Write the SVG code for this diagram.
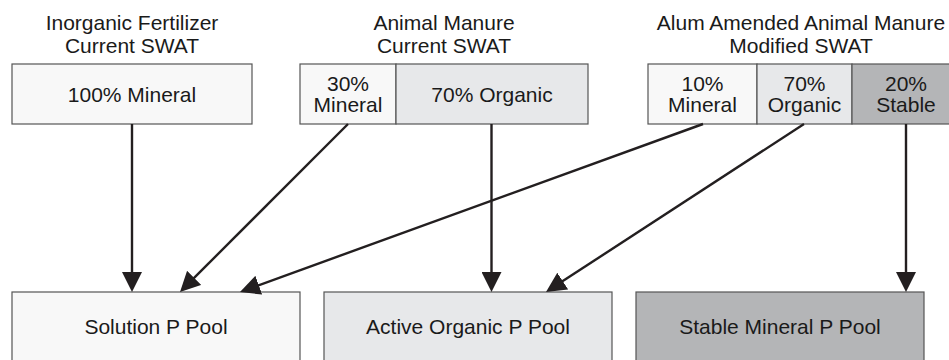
<svg xmlns="http://www.w3.org/2000/svg" width="949" height="360" viewBox="0 0 949 360">
<style>
text{font-family:"Liberation Sans",Arial,sans-serif;font-size:21px;fill:#1a1a1a;text-anchor:middle}
.box{stroke:#555;stroke-width:1.2}
.min{fill:#f8f8f8}
.org{fill:#e7e8ea}
.stb{fill:#b4b5b7}
.conn{stroke:#231f20;stroke-width:2.4;fill:none}
</style>
<defs>
<marker id="ah" markerUnits="userSpaceOnUse" viewBox="0 0 20 20" markerWidth="20" markerHeight="20" refX="16" refY="10" orient="auto">
<path d="M0,0 L20,10 L0,20 z" fill="#231f20"/>
</marker>
</defs>
<rect width="949" height="360" fill="#fff"/>
<g id="title-inorganic"><text x="132" y="30">Inorganic Fertilizer</text><text x="132" y="53">Current SWAT</text></g>
<g id="title-manure"><text x="444" y="30">Animal Manure</text><text x="444" y="53">Current SWAT</text></g>
<g id="title-alum"><text x="801" y="30">Alum Amended Animal Manure</text><text x="801" y="53">Modified SWAT</text></g>
<g id="fert-mineral"><rect class="box min" x="12" y="64" width="240" height="60"/><text x="132" y="102">100% Mineral</text></g>
<g id="manure-mineral"><rect class="box min" x="300" y="64" width="96" height="60"/><text x="348" y="91">30%</text><text x="348" y="112">Mineral</text></g>
<g id="manure-organic"><rect class="box org" x="396" y="64" width="192" height="60"/><text x="492" y="102">70% Organic</text></g>
<g id="alum-mineral"><rect class="box min" x="648" y="64" width="109" height="60"/><text x="702.5" y="91">10%</text><text x="702.5" y="112">Mineral</text></g>
<g id="alum-organic"><rect class="box org" x="757" y="64" width="95" height="60"/><text x="804.5" y="91">70%</text><text x="804.5" y="112">Organic</text></g>
<g id="alum-stable"><rect class="box stb" x="852" y="64" width="108" height="60"/><text x="906" y="91">20%</text><text x="906" y="112">Stable</text></g>
<g id="solution-pool"><rect class="box min" x="12" y="292" width="288" height="72"/><text x="156" y="334">Solution P Pool</text></g>
<g id="active-pool"><rect class="box org" x="324" y="292" width="288" height="72"/><text x="468" y="334">Active Organic P Pool</text></g>
<g id="stable-pool"><rect class="box stb" x="636" y="292" width="288" height="72"/><text x="780" y="334">Stable Mineral P Pool</text></g>
<g id="connectors">
<line class="conn" x1="132" y1="124" x2="132" y2="288" marker-end="url(#ah)"/>
<line class="conn" x1="348" y1="124" x2="182.83" y2="289.17" marker-end="url(#ah)"/>
<line class="conn" x1="703" y1="124" x2="243.76" y2="290.64" marker-end="url(#ah)"/>
<line class="conn" x1="491.5" y1="124" x2="491.5" y2="288" marker-end="url(#ah)"/>
<line class="conn" x1="804" y1="124" x2="549.35" y2="289.82" marker-end="url(#ah)"/>
<line class="conn" x1="906" y1="124" x2="906" y2="288" marker-end="url(#ah)"/>
</g>
</svg>
